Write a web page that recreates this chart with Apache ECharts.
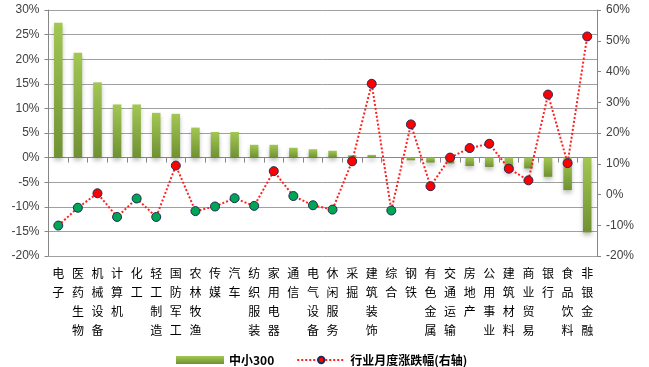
<!DOCTYPE html>
<html>
<head>
<meta charset="utf-8">
<script src="https://cdn.jsdelivr.net/npm/echarts@6/dist/echarts.min.js"></script>
<style>html,body{margin:0;padding:0;background:#fff}#c{width:649px;height:367px}</style>
</head>
<body>
<div id="c"></div>
<script>
var categories = ['电子','医药生物','机械设备','计算机','化工','轻工制造','国防军工','农林牧渔','传媒','汽车','纺织服装','家用电器','通信','电气设备','休闲服务','采掘','建筑装饰','综合','钢铁','有色金属','交通运输','房地产','公用事业','建筑材料','商业贸易','银行','食品饮料','非银金融'];
var barValues = [27.4,21.3,15.3,10.8,10.8,9.1,8.9,6.1,5.2,5.2,2.6,2.6,2.0,1.7,1.4,0.5,0.55,0.05,-0.55,-1.0,-1.2,-1.7,-1.9,-2.8,-2.2,-3.9,-6.6,-15.2];
var lineValues = [-10.1,-4.3,0.4,-7.3,-1.3,-7.3,9.4,-5.4,-3.9,-1.2,-3.7,7.6,-0.5,-3.5,-4.9,10.8,36.0,-5.2,22.8,2.7,12.0,15.1,16.5,8.4,4.6,32.5,10.2,51.4];
var leftTicks = {min:-20,max:30,interval:5};
var rightTicks = {min:-20,max:60,interval:10};
var barName = '中小300';
var lineName = '行业月度涨跌幅(右轴)';

var chart = echarts.init(document.getElementById('c'), null, {renderer:'canvas'});
var axisGray = '#868686';
var font = '"Noto Sans CJK SC","Noto Sans",sans-serif';
chart.setOption({
  animation:false,
  grid:{left:48.5,right:52,top:10,bottom:111},
  legend:{
    left:171, top:349, itemWidth:48, itemHeight:8, itemGap:22,
    textStyle:{fontFamily:font,fontSize:12,fontWeight:'bold',color:'#000'},
    data:[{name:barName,icon:'rect'},{name:lineName}]
  },
  xAxis:[{
    type:'category', data:categories, boundaryGap:true,
    axisLine:{onZero:true,lineStyle:{color:axisGray,width:1}},
    axisTick:{show:true,interval:0,length:5,lineStyle:{color:axisGray}},
    axisLabel:{show:false}
  },{
    type:'category', data:categories, position:'bottom', boundaryGap:true,
    axisLine:{show:false}, axisTick:{show:false},
    axisLabel:{interval:0,margin:8,fontFamily:font,fontSize:12,lineHeight:19,color:'#000',
      formatter:function(v){return v.split('').join('\n');}}
  }],
  yAxis:[{
    type:'value', min:leftTicks.min, max:leftTicks.max, interval:leftTicks.interval,
    axisLine:{show:true,lineStyle:{color:axisGray}},
    axisTick:{show:true,length:4,lineStyle:{color:axisGray}},
    axisLabel:{formatter:'{value}%',fontFamily:'Liberation Sans, Arial, sans-serif',fontSize:12,color:'#404040',margin:9},
    splitLine:{show:true,lineStyle:{color:'#a0a0a0',width:1}}
  },{
    type:'value', min:rightTicks.min, max:rightTicks.max, interval:rightTicks.interval,
    axisLine:{show:true,lineStyle:{color:axisGray}},
    axisTick:{show:true,length:4,lineStyle:{color:axisGray}},
    axisLabel:{formatter:'{value}%',fontFamily:'Liberation Sans, Arial, sans-serif',fontSize:12,color:'#404040',margin:9},
    splitLine:{show:false}
  }],
  series:[{
    name:barName, type:'bar', xAxisIndex:0, yAxisIndex:0, barWidth:8.5,
    data:barValues,
    itemStyle:{
      color:new echarts.graphic.LinearGradient(0,0,0,1,[{offset:0,color:'#a2c752'},{offset:1,color:'#6f9133'}]),
      shadowColor:'rgba(0,0,0,0.25)', shadowBlur:4, shadowOffsetY:3
    }
  },{
    name:lineName, type:'line', xAxisIndex:0, yAxisIndex:1,
    symbol:'circle', symbolSize:9,
    lineStyle:{color:'#ff2020',width:2,type:'dotted'},
    itemStyle:{color:'#ff0000',borderColor:'#1f2a5a',borderWidth:1},
    data:lineValues.map(function(v){
      return {value:v,itemStyle:{color:v<0?'#00a651':'#ff0000'}};
    })
  }]
});
</script>
</body>
</html>
